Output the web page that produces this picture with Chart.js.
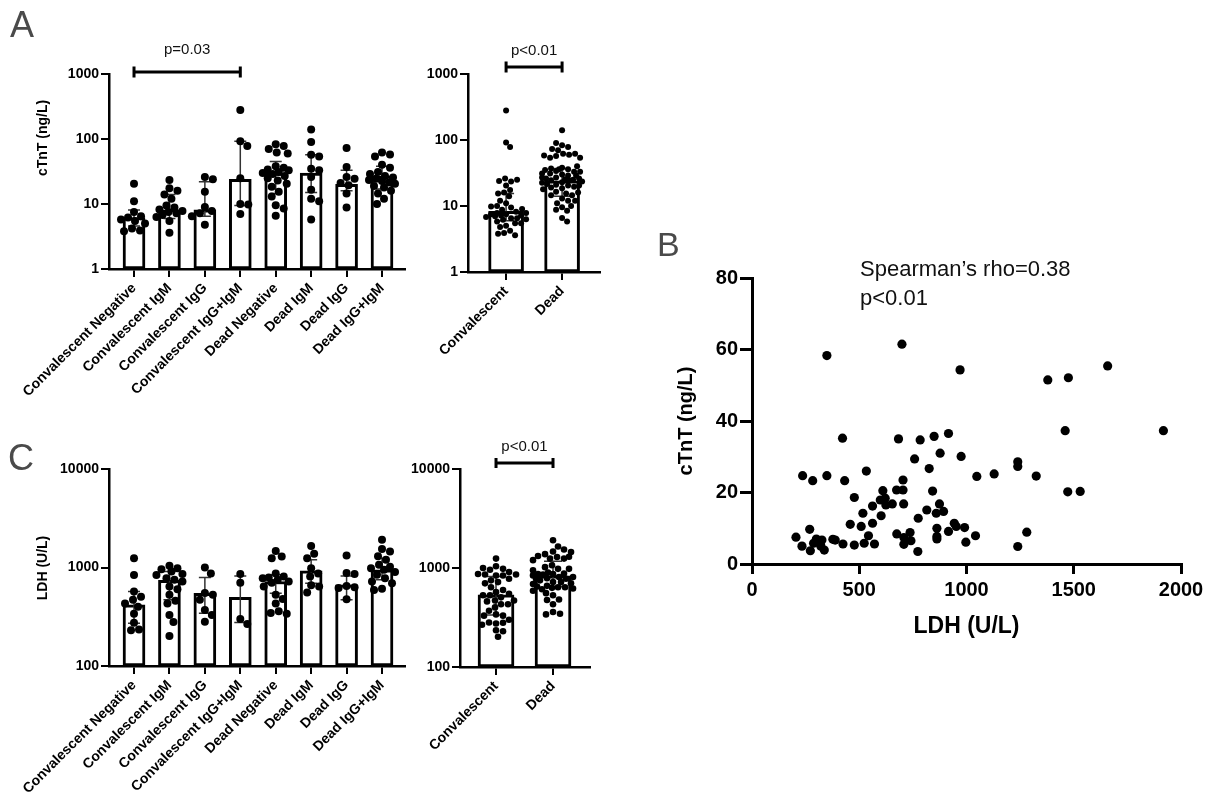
<!DOCTYPE html>
<html><head><meta charset="utf-8">
<script src="https://cdn.jsdelivr.net/npm/chart.js@4.4.1/dist/chart.umd.min.js"></script>
<style>
html,body{margin:0;padding:0;background:#fff;}
#wrap{position:relative;width:1215px;height:799px;overflow:hidden;font-family:"Liberation Sans",Arial,Helvetica,sans-serif;}
canvas{position:absolute;}
.letter{position:absolute;font-size:36px;line-height:36px;color:#4a4a4a;}
#spear{position:absolute;left:860px;top:254px;font-size:22px;line-height:29px;color:#111;white-space:nowrap;}
</style></head><body>
<div id="wrap">
<canvas id="cA1" width="410" height="430" style="left:0;top:0;width:410px;height:430px"></canvas>
<canvas id="cA2" width="200" height="430" style="left:410px;top:0;width:200px;height:430px"></canvas>
<canvas id="cC1" width="410" height="369" style="left:0;top:430px;width:410px;height:369px"></canvas>
<canvas id="cC2" width="200" height="369" style="left:410px;top:430px;width:200px;height:369px"></canvas>
<canvas id="cB" width="595" height="450" style="left:620px;top:200px;width:595px;height:450px"></canvas>
<div class="letter" style="left:10px;top:7px">A</div>
<div class="letter" style="left:8px;top:440px">C</div>
<div class="letter" style="left:657px;top:227px;font-size:34px;line-height:34px">B</div>
<div id="spear">Spearman’s rho=0.38<br>p&lt;0.01</div>
</div>
<script>
// ---------- categories & ticks ----------
const groupCats = ['Convalescent Negative','Convalescent IgM','Convalescent IgG','Convalescent IgG+IgM','Dead Negative','Dead IgM','Dead IgG','Dead IgG+IgM'];
const pooledCats = ['Convalescent','Dead'];
const ctntTicks = [1,10,100,1000];
const ldhTicks = [100,1000,10000];
const scatterXTicks = [0,500,1000,1500,2000];
const scatterYTicks = [0,20,40,60,80];

// ---------- cTnT (ng/L) by group ----------
const ctntConvNeg   = [20.5, 11, 7.5, 6.5, 6.2, 5.8, 5.5, 5.0, 4.2, 3.9, 3.8];
const ctntConvIgM   = [23.5, 17.5, 16, 14, 12, 9.5, 8.8, 8.2, 7.8, 7.5, 7.2, 6.8, 6.3, 5.5, 3.6];
const ctntConvIgG   = [26, 24, 15.5, 9.0, 7.8, 7.2, 6.5, 4.8];
const ctntConvBoth  = [280, 92, 78, 25, 10, 9.8, 7.0];
const ctntDeadNeg   = [83, 78, 70, 62, 60, 38, 36, 34, 33, 31, 30, 29, 27, 25, 23, 20.5, 18.5, 15.5, 13, 9.6, 8.5, 6.6];
const ctntDeadIgM   = [140, 90, 57, 54, 35, 33, 26, 16.5, 12, 11, 5.8];
const ctntDeadIgG   = [73, 37, 26, 24.5, 21, 19.5, 14.5, 8.8];
const ctntDeadBoth  = [62, 58, 54, 40, 36, 31, 29, 27, 25.5, 24.5, 23.5, 22.5, 21.5, 20.5, 19, 18, 16, 14.5, 12, 10];
const ctntBar     = [6.2, 8.1, 8.1, 24, 30, 30, 20, 27];
const ctntErrLow  = [4.6, 6.0, 6.5, 9.5, 14.5, 15, 16, 17];
const ctntErrHigh = [8.1, 14, 22, 92, 45, 57, 33, 38];
const ctntConv = [...ctntConvNeg, ...ctntConvIgM, ...ctntConvIgG, ...ctntConvBoth];
const ctntDead = [...ctntDeadNeg, ...ctntDeadIgM, ...ctntDeadIgG, ...ctntDeadBoth];
const ctntPoolBar     = [8.3, 24];
const ctntPoolErrLow  = [6.0, 14];
const ctntPoolErrHigh = [15.5, 37];

// ---------- LDH (U/L) by group ----------
const ldhConvNeg  = [1245, 840, 570, 505, 470, 430, 400, 340, 275, 235, 230];
const ldhConvIgM  = [1040, 980, 960, 910, 860, 840, 780, 750, 720, 640, 600, 530, 460, 430, 330, 280, 202];
const ldhConvIgG  = [1000, 870, 550, 530, 470, 370, 330, 282];
const ldhConvBoth = [860, 700, 300, 267];
const ldhDeadNeg  = [1470, 1290, 1245, 870, 810, 790, 780, 750, 720, 700, 640, 530, 480, 430, 360, 345, 340];
const ldhDeadIgM  = [1650, 1380, 1245, 980, 870, 810, 660, 640, 557];
const ldhDeadIgG  = [1320, 880, 860, 650, 630, 620, 475];
const ldhDeadBoth = [1910, 1540, 1450, 1300, 1200, 1065, 1020, 980, 950, 900, 842, 780, 720, 690, 610, 590];
const ldhBar     = [417, 740, 548, 499, 721, 925, 667, 946];
const ldhErrLow  = [271, 470, 343, 276, 548, 690, 470, 750];
const ldhErrHigh = [570, 910, 790, 820, 842, 1200, 820, 1245];
const ldhConv = [...ldhConvNeg, ...ldhConvIgM, ...ldhConvIgG, ...ldhConvBoth];
const ldhDead = [...ldhDeadNeg, ...ldhDeadIgM, ...ldhDeadIgG, ...ldhDeadBoth];
const ldhPoolBar     = [535, 835];
const ldhPoolErrLow  = [335, 651];
const ldhPoolErrHigh = [822, 1170];

// ---------- B: LDH vs cTnT ----------
const scatterLdh  = [349, 699, 970, 1658, 1379, 1475, 1918, 1460, 422, 683, 784, 849, 916, 877, 975, 758, 826, 533, 1239, 1239, 1129, 1048, 1325, 236, 283, 349, 432, 704, 674, 704, 610, 842, 1472, 1530, 477, 598, 621, 624, 654, 562, 707, 874, 517, 815, 859, 893, 602, 775, 562, 458, 509, 943, 952, 862, 991, 269, 543, 675, 737, 708, 916, 862, 862, 1042, 1281, 205, 300, 326, 377, 388, 287, 233, 321, 337, 272, 424, 477, 523, 571, 708, 741, 773, 997, 1239];
const scatterCtnt = [58.3, 61.5, 54.3, 55.4, 51.5, 52.1, 37.3, 37.3, 35.2, 35.0, 34.7, 35.7, 36.5, 31.0, 30.1, 29.4, 26.7, 26.0, 28.6, 27.3, 25.2, 24.5, 24.6, 24.7, 23.3, 24.7, 23.3, 23.5, 20.7, 20.7, 20.5, 20.4, 20.2, 20.3, 18.6, 17.9, 18.4, 16.5, 16.8, 16.2, 16.8, 16.8, 14.2, 15.1, 14.2, 14.7, 13.5, 12.8, 11.4, 11.1, 10.5, 11.4, 10.5, 10.0, 10.2, 9.7, 7.9, 8.4, 8.8, 7.4, 9.1, 7.7, 7.0, 7.9, 8.9, 7.5, 7.0, 6.7, 6.9, 6.7, 5.8, 5.0, 5.0, 3.9, 3.7, 5.6, 5.3, 5.8, 5.6, 5.5, 6.5, 3.5, 6.1, 4.9];

const FONT = '"Liberation Sans", Arial, Helvetica, sans-serif';

const errPlugin = {
  id: 'errbars',
  afterDatasetDraw(chart, args, o) {
    if (chart.data.datasets[args.index].type !== 'bar') return;
    const {ctx, scales: {x, y}} = chart;
    ctx.save(); ctx.strokeStyle = o.color; ctx.lineWidth = o.width;
    o.lo.forEach((lo, i) => {
      const px = x.getPixelForValue(i), p1 = y.getPixelForValue(lo), p2 = y.getPixelForValue(o.hi[i]);
      ctx.beginPath();
      ctx.moveTo(px, p1); ctx.lineTo(px, p2);
      ctx.moveTo(px - o.cap, p1); ctx.lineTo(px + o.cap, p1);
      ctx.moveTo(px - o.cap, p2); ctx.lineTo(px + o.cap, p2);
      ctx.stroke();
    });
    ctx.restore();
  }
};
const bracketPlugin = {
  id: 'bracket',
  afterDraw(chart, args, o) {
    if (!o || !o.text) return;
    const {ctx, scales: {x}, chartArea} = chart;
    const x1 = x.getPixelForValue(o.from), x2 = x.getPixelForValue(o.to);
    const yl = chartArea.top - o.rise;
    ctx.save(); ctx.strokeStyle = '#000'; ctx.lineWidth = 3;
    ctx.beginPath();
    ctx.moveTo(x1, yl); ctx.lineTo(x2, yl);
    ctx.moveTo(x1, yl - o.cap); ctx.lineTo(x1, yl + o.cap);
    ctx.moveTo(x2, yl - o.cap); ctx.lineTo(x2, yl + o.cap);
    ctx.stroke();
    ctx.fillStyle = '#111'; ctx.font = '15px ' + FONT; ctx.textAlign = 'center'; ctx.textBaseline = 'middle';
    ctx.fillText(o.text, (x1 + x2) / 2, yl - o.gap);
    ctx.restore();
  }
};
const yTitlePlugin = {
  id: 'ytitle',
  afterDraw(chart, args, o) {
    if (!o || !o.text) return;
    const ctx = chart.ctx;
    ctx.save(); ctx.translate(o.x, o.y); ctx.rotate(-Math.PI / 2);
    ctx.font = 'bold 14px ' + FONT; ctx.fillStyle = '#000'; ctx.textAlign = 'center'; ctx.textBaseline = 'middle';
    ctx.fillText(o.text, 0, 0); ctx.restore();
  }
};

function swarm(chart, groups, r, spread) {
  const xs = chart.scales.x, ys = chart.scales.y;
  const unit = xs.getPixelForValue(1) - xs.getPixelForValue(0);
  const pts = [];
  groups.forEach((vals, gi) => {
    const placed = [];
    vals.forEach(v => {
      const py = ys.getPixelForValue(v);
      let best = 0, bestD = -1;
      for (let k = 0; k <= 2 * spread; k++) {
        const off = (k % 2 ? 1 : -1) * Math.ceil(k / 2);
        let dmin = Infinity;
        for (const p of placed) { const d = Math.hypot(p.x - off, p.y - py); if (d < dmin) dmin = d; }
        if (dmin >= 2 * r) { best = off; break; }
        if (dmin > bestD) { bestD = dmin; best = off; }
      }
      placed.push({x: best, y: py});
      pts.push({x: gi + best / unit, y: v});
    });
  });
  chart.data.datasets[0].data = pts;
  chart.update('none');
}

function axisStyle() {
  return {
    offset: false,
    grid: { offset: false, drawOnChartArea: false, drawTicks: true, tickLength: 8, color: '#000', lineWidth: 2 },
    border: { display: true, color: '#000', width: 2.5 }
  };
}

function barPanel(id, cfg) {
  const canvas = document.getElementById(id);
  const W = canvas.width, H = canvas.height;
  const chart = new Chart(canvas, {
    type: 'bar',
    data: { datasets: [
      { type: 'scatter', data: [], backgroundColor: '#000', pointRadius: cfg.r, pointBorderWidth: 0, pointHoverRadius: cfg.r, order: 0 },
      { type: 'bar', data: cfg.bars.map((v, i) => ({x: i, y: v})), backgroundColor: '#fff', borderColor: '#000', borderWidth: 3, borderSkipped: false, barThickness: cfg.barW, order: 1 }
    ]},
    options: {
      responsive: false, animation: false, events: [],
      layout: { padding: { top: cfg.area.top, right: W - cfg.area.right, left: 0, bottom: 0 } },
      plugins: {
        legend: {display: false}, tooltip: {enabled: false},
        errbars: { lo: cfg.lo, hi: cfg.hi, cap: cfg.cap, color: '#333', width: 1.5 },
        bracket: cfg.bracket || {},
        ytitle: cfg.ytitle || {}
      },
      scales: {
        x: Object.assign(axisStyle(), {
          type: 'linear', min: cfg.xMin, max: cfg.xMax, bounds: 'data',
          afterBuildTicks: s => { s.ticks = cfg.cats.map((c, i) => ({value: i})); },
          afterFit: s => { s.height = H - cfg.area.bottom; },
          ticks: { autoSkip: false, minRotation: 45, maxRotation: 45, padding: 3, color: '#000',
                   font: {family: FONT, size: 14, weight: 'bold'}, callback: (v, i) => cfg.cats[i] }
        }),
        y: Object.assign(axisStyle(), {
          type: 'logarithmic', min: cfg.yTicks[0], max: cfg.yTicks[cfg.yTicks.length - 1],
          afterBuildTicks: s => { s.ticks = cfg.yTicks.map(v => ({value: v})); },
          afterFit: s => { s.width = cfg.area.left; },
          ticks: { padding: 2, color: '#000', font: {family: FONT, size: 14, weight: 'bold'}, callback: v => String(v) }
        })
      }
    },
    plugins: [errPlugin, bracketPlugin, yTitlePlugin]
  });
  swarm(chart, cfg.groups, cfg.r, cfg.spread);
  return chart;
}

barPanel('cA1', {
  cats: groupCats, bars: ctntBar, lo: ctntErrLow, hi: ctntErrHigh, yTicks: ctntTicks,
  groups: [ctntConvNeg, ctntConvIgM, ctntConvIgG, ctntConvBoth, ctntDeadNeg, ctntDeadIgM, ctntDeadIgG, ctntDeadBoth],
  area: {left: 109, right: 405, top: 74, bottom: 269}, xMin: -0.706, xMax: 7.649,
  barW: 22, r: 4, spread: 13, cap: 6,
  bracket: {from: 0, to: 3, text: 'p=0.03', rise: 2, cap: 5.5, gap: 22},
  ytitle: {text: 'cTnT (ng/L)', x: 43, y: 138}
});
barPanel('cA2', {
  cats: pooledCats, bars: ctntPoolBar, lo: ctntPoolErrLow, hi: ctntPoolErrHigh, yTicks: ctntTicks,
  groups: [ctntConv, ctntDead],
  area: {left: 58, right: 190, top: 74, bottom: 272}, xMin: -0.68, xMax: 1.677,
  barW: 35, r: 3, spread: 20, cap: 8,
  bracket: {from: 0, to: 1, text: 'p<0.01', rise: 7, cap: 5.5, gap: 16}
});
barPanel('cC1', {
  cats: groupCats, bars: ldhBar, lo: ldhErrLow, hi: ldhErrHigh, yTicks: ldhTicks,
  groups: [ldhConvNeg, ldhConvIgM, ldhConvIgG, ldhConvBoth, ldhDeadNeg, ldhDeadIgM, ldhDeadIgG, ldhDeadBoth],
  area: {left: 109, right: 405, top: 39, bottom: 236}, xMin: -0.706, xMax: 7.649,
  barW: 22, r: 4, spread: 13, cap: 6,
  ytitle: {text: 'LDH (U/L)', x: 43, y: 138}
});
barPanel('cC2', {
  cats: pooledCats, bars: ldhPoolBar, lo: ldhPoolErrLow, hi: ldhPoolErrHigh, yTicks: ldhTicks,
  groups: [ldhConv, ldhDead],
  area: {left: 50, right: 180, top: 39, bottom: 237}, xMin: -0.632, xMax: 1.649,
  barW: 36, r: 3.3, spread: 20, cap: 9,
  bracket: {from: 0, to: 1, text: 'p<0.01', rise: 6, cap: 5, gap: 16}
});

// ---------- B scatter ----------
new Chart(document.getElementById('cB'), {
  type: 'scatter',
  data: { datasets: [{ data: scatterLdh.map((x, i) => ({x: x, y: scatterCtnt[i]})), backgroundColor: '#000', pointRadius: 4.6, pointBorderWidth: 0 }] },
  options: {
    responsive: false, animation: false, events: [],
    layout: { padding: { top: 78, right: 34, left: 0, bottom: 0 } },
    plugins: { legend: {display: false}, tooltip: {enabled: false} },
    scales: {
      x: {
        type: 'linear', min: 0, max: 2000, offset: false,
        afterBuildTicks: s => { s.ticks = scatterXTicks.map(v => ({value: v})); },
        afterFit: s => { s.height = 86; },
        ticks: { padding: 4, maxRotation: 0, color: '#000', font: {family: FONT, size: 20, weight: 'bold'}, callback: v => String(v) },
        grid: { drawOnChartArea: false, tickLength: 10, color: '#000', lineWidth: 3 },
        border: { display: true, color: '#000', width: 3 },
        title: { display: true, text: 'LDH (U/L)', color: '#000', font: {family: FONT, size: 23, weight: 'bold'}, padding: {top: 0, bottom: 10} }
      },
      y: {
        type: 'linear', min: 0, max: 80,
        afterBuildTicks: s => { s.ticks = scatterYTicks.map(v => ({value: v})); },
        afterFit: s => { s.width = 132; },
        ticks: { padding: 2, color: '#000', font: {family: FONT, size: 20, weight: 'bold'}, callback: v => String(v) },
        grid: { drawOnChartArea: false, tickLength: 12, color: '#000', lineWidth: 3 },
        border: { display: true, color: '#000', width: 3 },
        title: { display: true, text: 'cTnT (ng/L)', color: '#000', font: {family: FONT, size: 20, weight: 'bold'}, padding: {top: 54, bottom: 0} }
      }
    }
  }
});
</script>
</body></html>
